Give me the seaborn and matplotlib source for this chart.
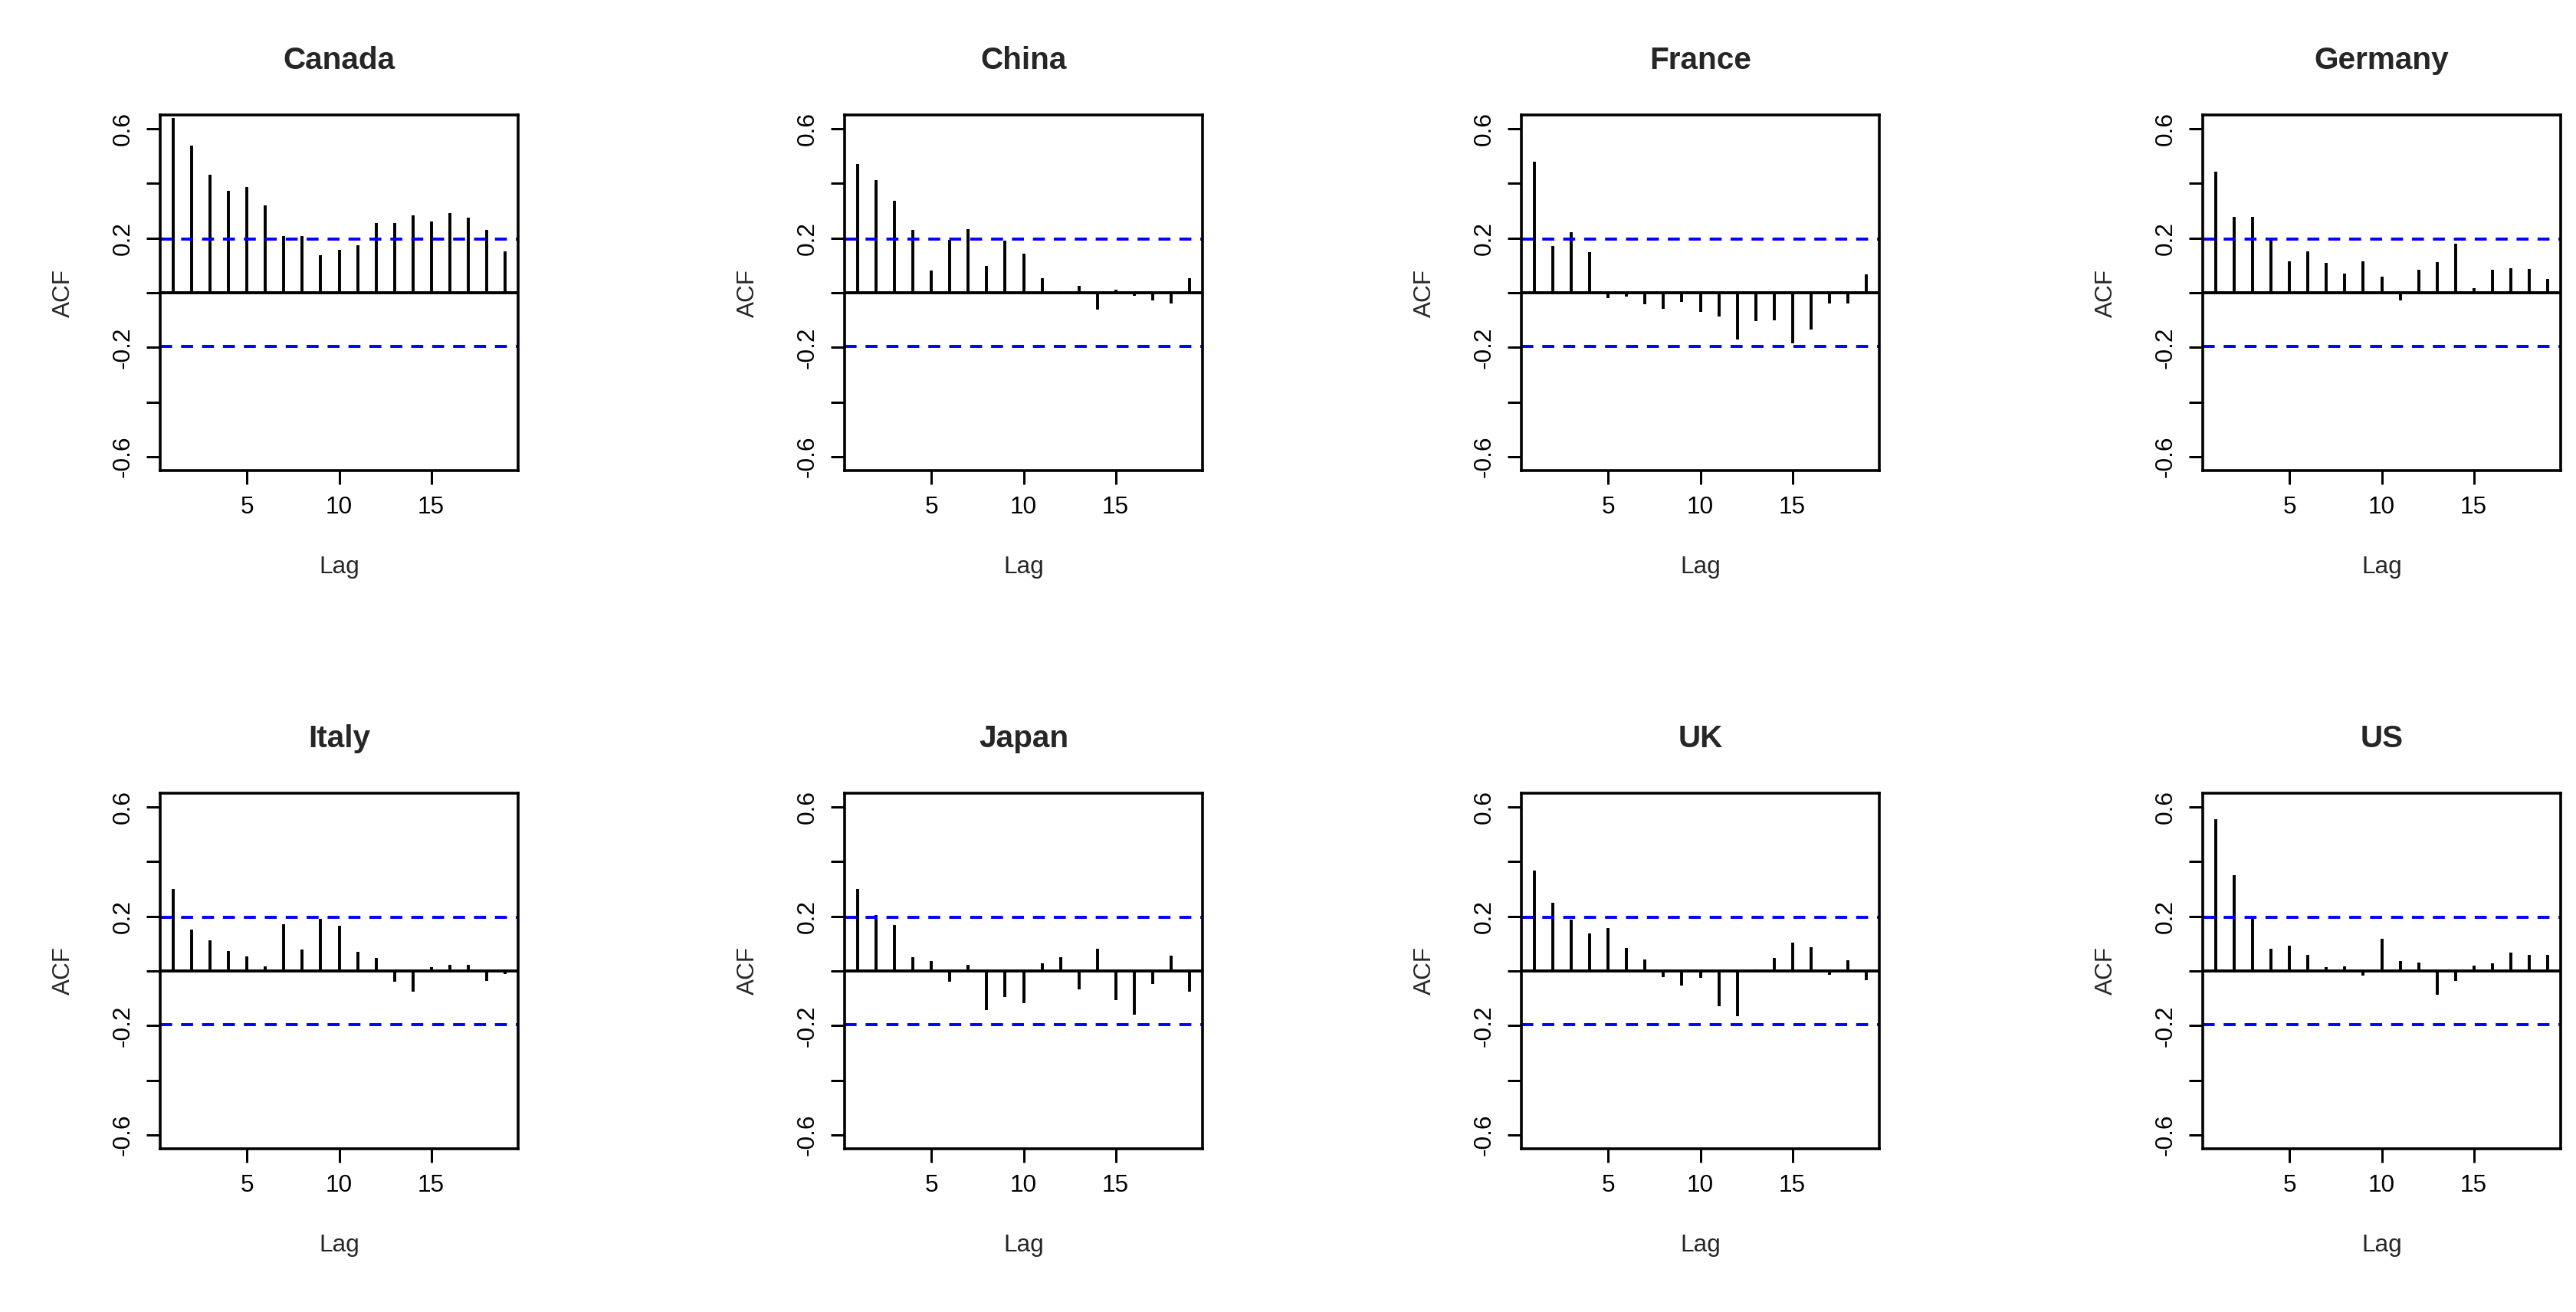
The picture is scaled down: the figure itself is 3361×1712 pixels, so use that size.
import numpy as np
import seaborn as sns
import matplotlib.pyplot as plt

countries = ['Canada', 'China', 'France', 'Germany', 'Italy', 'Japan', 'UK', 'US']
lags = list(range(1, 20))
conf = 0.197

canada = [0.64, 0.537, 0.432, 0.373, 0.387, 0.319, 0.206, 0.206, 0.137, 0.157,
          0.174, 0.255, 0.256, 0.284, 0.261, 0.29, 0.274, 0.231, 0.151]
china = [0.47, 0.411, 0.337, 0.229, 0.082, 0.194, 0.232, 0.099, 0.19, 0.144,
         0.054, -0.006, 0.026, -0.063, 0.01, -0.01, -0.028, -0.039, 0.054]
france = [0.479, 0.171, 0.222, 0.148, -0.021, -0.014, -0.042, -0.058, -0.035, -0.071,
          -0.086, -0.171, -0.104, -0.102, -0.185, -0.134, -0.039, -0.039, 0.067]
germany = [0.442, 0.278, 0.276, 0.194, 0.116, 0.151, 0.108, 0.069, 0.114, 0.059,
           -0.028, 0.085, 0.112, 0.179, 0.016, 0.083, 0.09, 0.086, 0.051]
italy = [0.299, 0.151, 0.112, 0.073, 0.053, 0.018, 0.171, 0.079, 0.191, 0.166,
         0.07, 0.048, -0.038, -0.077, 0.014, 0.022, 0.022, -0.037, -0.012]
japan = [0.299, 0.204, 0.167, 0.05, 0.036, -0.04, 0.023, -0.144, -0.096, -0.118,
         0.029, 0.05, -0.068, 0.081, -0.107, -0.159, -0.049, 0.056, -0.077]
uk = [0.367, 0.248, 0.187, 0.137, 0.157, 0.084, 0.042, -0.023, -0.054, -0.026,
      -0.128, -0.166, 0.007, 0.048, 0.104, 0.087, -0.014, 0.039, -0.035]
us = [0.555, 0.349, 0.193, 0.081, 0.092, 0.06, 0.015, 0.018, -0.017, 0.117,
      0.036, 0.031, -0.088, -0.037, 0.02, 0.029, 0.067, 0.059, 0.059]
acf_values = [canada, china, france, germany, italy, japan, uk, us]

sns.set_style("ticks")
plt.rcParams['font.family'] = ['Liberation Sans', 'DejaVu Sans']

W, H = 3361, 1712
fig = plt.figure(figsize=(W / 216, H / 216), dpi=216)
lefts = [209, 1102, 1985, 2874]
tops = [150, 1035]
aw, ah = 467, 464

for i, (name, vals) in enumerate(zip(countries, acf_values)):
    r, c = divmod(i, 4)
    ax = fig.add_axes([lefts[c] / W, 1 - (tops[r] + ah) / H, aw / W, ah / H])
    ax.vlines(lags, 0, vals, color='black', lw=1.3)
    ax.axhline(0, color='black', lw=1.3)
    ax.axhline(conf, color='blue', lw=1.3, ls=(0, (4, 3)))
    ax.axhline(-conf, color='blue', lw=1.3, ls=(0, (4, 3)))
    ax.set_xlim(0.28, 19.72)
    ax.set_ylim(-0.65, 0.65)
    ax.set_xticks([5, 10, 15])
    ax.set_yticks([-0.6, -0.4, -0.2, 0, 0.2, 0.4, 0.6])
    ax.set_yticklabels(['-0.6', '', '-0.2', '', '0.2', '', '0.6'],
                       rotation=90, va='center')
    ax.tick_params(labelsize=10.5, length=6, width=1, pad=5, colors='black')
    for s in ax.spines.values():
        s.set_linewidth(1.2)
        s.set_color('black')
    ax.set_title(name, fontsize=13.5, fontweight='bold', pad=20)
    ax.set_xlabel('Lag', fontsize=10.5, labelpad=16)
    ax.set_ylabel('ACF', fontsize=10.5, labelpad=16)

fig.savefig('out.png', dpi=216, facecolor='white')
